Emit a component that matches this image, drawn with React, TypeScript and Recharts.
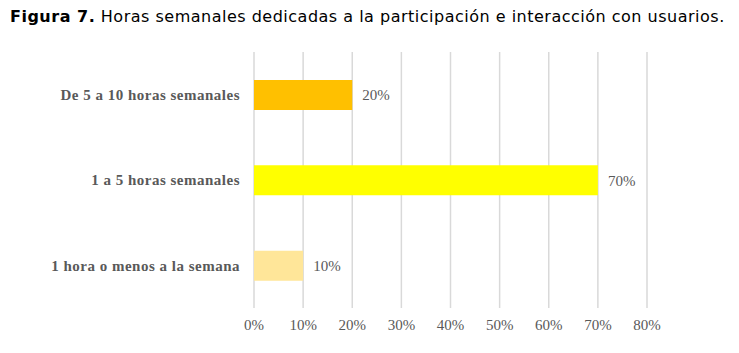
import { BarChart, Bar, XAxis, YAxis, CartesianGrid, Cell, LabelList } from "recharts";

const categories = ["De 5 a 10 horas semanales", "1 a 5 horas semanales", "1 hora o menos a la semana"];
const values = [20, 70, 10];
const barColors = ["#FFC000", "#FFFF00", "#FFE699"];
const xTicks = [0, 10, 20, 30, 40, 50, 60, 70, 80];

const data = categories.map((name, i) => ({ name, value: values[i] }));

const serif = "'Liberation Serif', 'Times New Roman', serif";

export default function App() {
    return (
        <div style={{ position: "absolute", left: 0, top: 0, width: 739, height: 353, background: "#fff" }}>
            <div
                style={{
                    position: "absolute",
                    left: 10,
                    top: 7,
                    fontFamily: "'DejaVu Sans', Verdana, sans-serif",
                    fontSize: 16,
                    letterSpacing: 0.5,
                    color: "#000",
                    whiteSpace: "nowrap",
                }}
            >
                <b>Figura 7.</b> Horas semanales dedicadas a la participación e interacción con usuarios.
            </div>
            <BarChart
                width={739}
                height={353}
                data={data}
                layout="vertical"
                margin={{ top: 52, right: 92, bottom: 20, left: 0 }}
                barCategoryGap={0}
            >
                <CartesianGrid horizontal={false} vertical={true} stroke="#d9d9d9" strokeWidth={1.5} />
                <XAxis
                    type="number"
                    domain={[0, 80]}
                    ticks={xTicks}
                    tickFormatter={(v) => `${v}%`}
                    axisLine={false}
                    tickLine={false}
                    tickSize={0}
                    tickMargin={11}
                    height={25}
                    interval={0}
                    tick={{ fontFamily: serif, fontSize: 15, fill: "#595959" }}
                />
                <YAxis
                    type="category"
                    dataKey="name"
                    width={254}
                    axisLine={false}
                    tickLine={false}
                    tickSize={0}
                    tickMargin={14}
                    tick={{ fontFamily: serif, fontSize: 15, fontWeight: "bold", fill: "#595959", letterSpacing: 0.5 }}
                />
                <Bar dataKey="value" barSize={30} isAnimationActive={false}>
                    {data.map((d, i) => (
                        <Cell key={d.name} fill={barColors[i]} />
                    ))}
                    <LabelList
                        dataKey="value"
                        position="right"
                        offset={10}
                        formatter={(v: any) => `${v}%`}
                        style={{ fontFamily: serif, fontSize: 15, fill: "#595959" }}
                    />
                </Bar>
            </BarChart>
        </div>
    );
}
